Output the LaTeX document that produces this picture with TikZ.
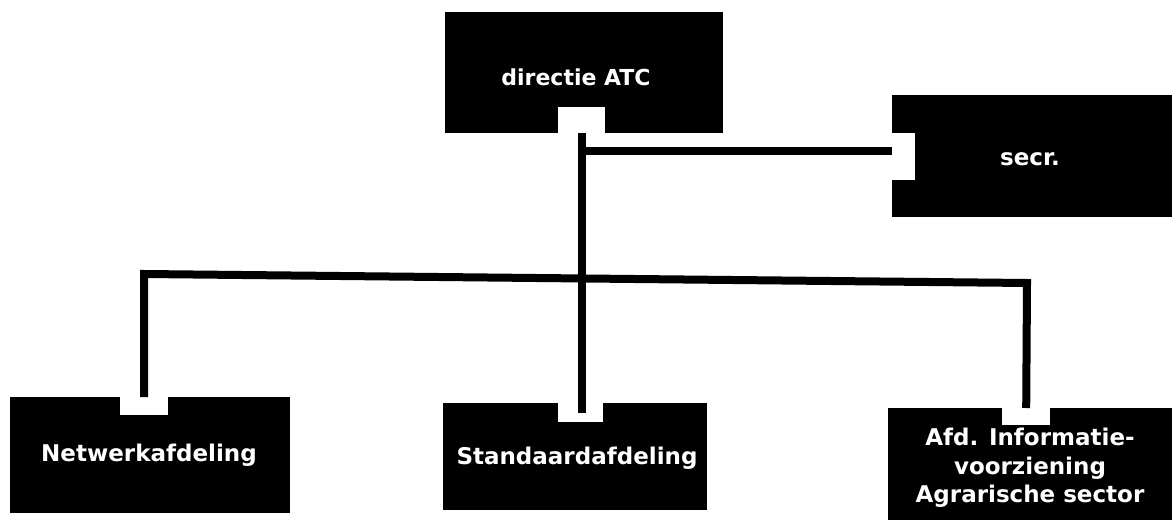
\documentclass[tikz,border=0pt]{standalone}
\usepackage{fontspec}
\setmainfont{DejaVu Sans}
\begin{document}
\begin{tikzpicture}[x=1pt,y=-1pt,
  box/.style={fill=black, draw=none, inner sep=0pt, anchor=north west},
  notch/.style={fill=white, draw=none, inner sep=0pt, anchor=north west},
  lbl/.style={text=white, font=\bfseries\fontsize{23}{22.5}\selectfont, align=center, inner sep=0pt},
  link/.style={line width=8pt, line join=miter, line cap=butt}]
\useasboundingbox (0,0) rectangle (1172,524);
% boxes
\node[box, minimum width=278pt, minimum height=121pt] (dir) at (445,12) {};
\node[box, minimum width=280pt, minimum height=122pt] (secr) at (892,95) {};
\node[box, minimum width=280pt, minimum height=116pt] (netw) at (10,397) {};
\node[box, minimum width=264pt, minimum height=107pt] (std) at (443,403) {};
\node[box, minimum width=284pt, minimum height=112pt] (afd) at (888,408) {};
% notches
\node[notch, minimum width=47pt, minimum height=26pt] (dirN) at (558,107) {};
\node[notch, minimum width=23pt, minimum height=47pt] (secrN) at (892,133) {};
\node[notch, minimum width=48pt, minimum height=18pt] (netwN) at (120,397) {};
\node[notch, minimum width=45pt, minimum height=19pt] (stdN) at (558,403) {};
\node[notch, minimum width=48pt, minimum height=17pt] (afdN) at (1002,408) {};
% labels
\node[lbl, font=\bfseries\fontsize{22}{22}\selectfont] (dirT) at (576,77) {directie ATC};
\node[lbl] (secrT) at (1030,159) {secr.};
\node[lbl] (netwT) at (149,455) {Netwerkafdeling};
\node[lbl] (stdT) at (577,458) {Standaardafdeling};
\node[lbl, font=\bfseries\fontsize{23}{28.5}\selectfont] (afdT) at (1030,468) {Afd. Informatie-\\voorziening\\Agrarische sector};
% connectors
\coordinate (sj) at (581,151);
\coordinate (bl) at (143,274);
\coordinate (br) at (1027,283);
\draw[link] (dirN.south) -- (dirN.south |- stdN.center);
\draw[link] (sj) -- (888,151 -| secrN.west);
\draw[link] (netwN.north) -- (netwN.north |- bl) -- (br) -- (afdN.north);
\end{tikzpicture}
\end{document}
